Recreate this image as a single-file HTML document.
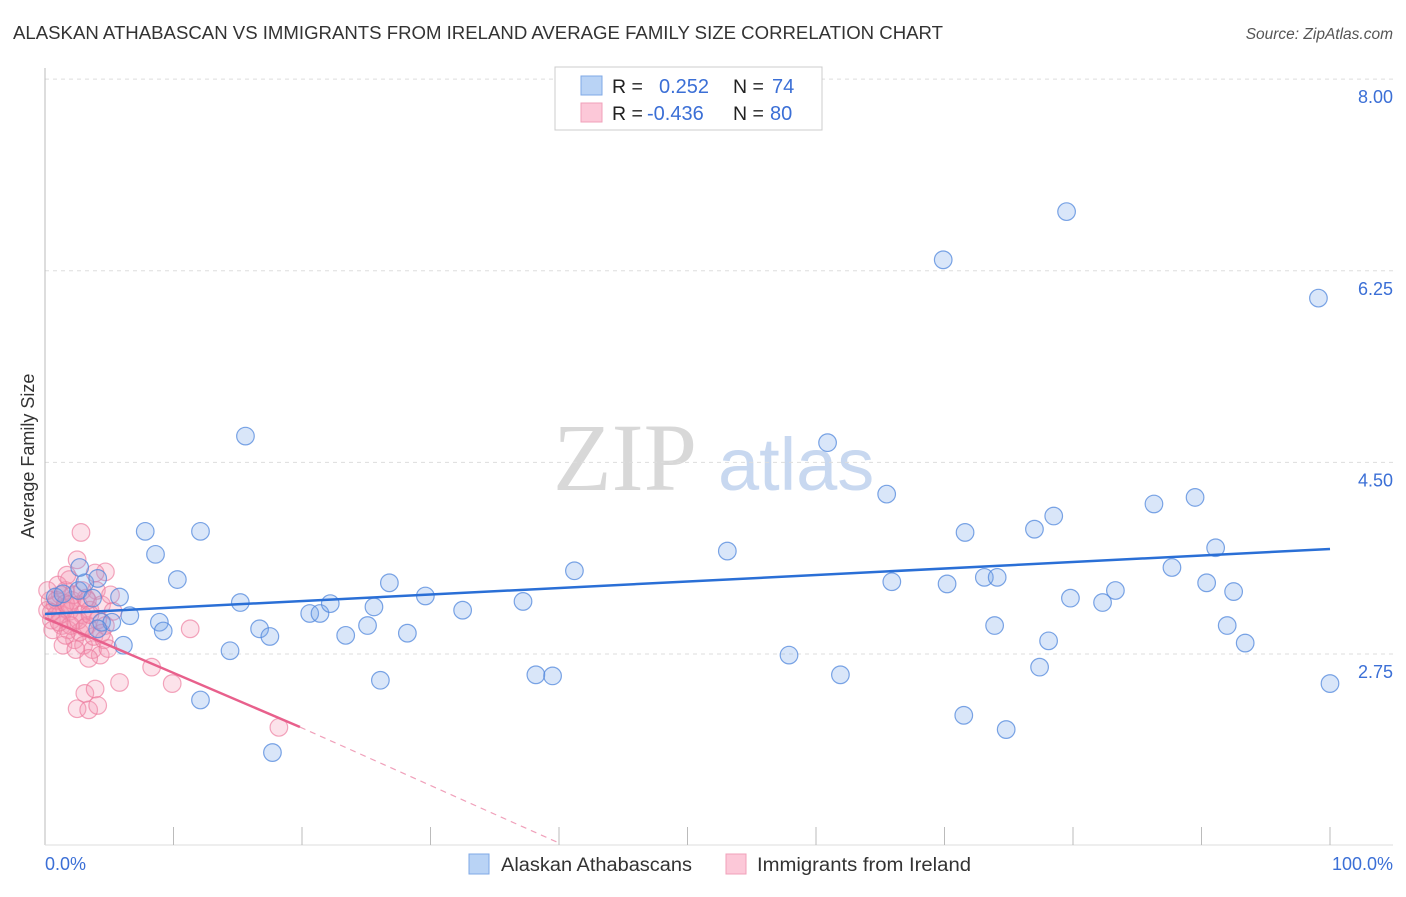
<!DOCTYPE html>
<html><head><meta charset="utf-8">
<style>
body{margin:0;background:#fff;font-family:"Liberation Sans",sans-serif;}
</style></head>
<body>
<svg id="chart" width="1406" height="892" xmlns="http://www.w3.org/2000/svg">
<text x="13" y="39" font-size="18" fill="#333" textLength="930" lengthAdjust="spacingAndGlyphs">ALASKAN ATHABASCAN VS IMMIGRANTS FROM IRELAND AVERAGE FAMILY SIZE CORRELATION CHART</text>
<text x="1393" y="39" font-size="15.5" fill="#555" font-style="italic" text-anchor="end">Source: ZipAtlas.com</text>
<g>
<text x="553" y="490" font-family="Liberation Serif,serif" font-size="96" fill="#d8d8d8">ZIP</text>
<text x="718" y="490" font-size="74" fill="#c8d8f0">atlas</text>
</g>
<g id="grid"></g>
<line x1="45" y1="68" x2="45" y2="845" stroke="#bbb"/>
<line x1="45" y1="845" x2="1393" y2="845" stroke="#ddd"/>
<g id="xticks"></g>
<text x="45" y="870" font-size="18" fill="#3b6fd6">0.0%</text>
<text x="1393" y="870" font-size="18" fill="#3b6fd6" text-anchor="end">100.0%</text>
<text transform="translate(34,456) rotate(-90)" font-size="18" fill="#333" text-anchor="middle">Average Family Size</text>
<g id="pts"></g>
<g id="trends"></g>
<g>
<rect x="555" y="67" width="267" height="63" fill="#fff" stroke="#ccc"/>
<rect x="581" y="76" width="21" height="19" fill="#b9d3f5" stroke="#7fa8e6"/>
<rect x="581" y="103" width="21" height="19" fill="#fcc8d8" stroke="#f0a0ba"/>
<text x="612" y="93" font-size="19.5" fill="#222">R = </text><text x="659" y="93" font-size="20" fill="#3b6fd6">0.252</text>
<text x="733" y="93" font-size="19.5" fill="#222">N = </text><text x="772" y="93" font-size="20" fill="#3b6fd6">74</text>
<text x="612" y="120" font-size="19.5" fill="#222">R = </text><text x="647" y="120" font-size="20" fill="#3b6fd6">-0.436</text>
<text x="733" y="120" font-size="19.5" fill="#222">N = </text><text x="770" y="120" font-size="20" fill="#3b6fd6">80</text>
</g>
<g>
<rect x="469" y="854" width="20" height="20" fill="#b9d3f5" stroke="#7fa8e6"/>
<text x="501" y="871" font-size="19" fill="#333" textLength="191" lengthAdjust="spacingAndGlyphs">Alaskan Athabascans</text>
<rect x="726" y="854" width="20" height="20" fill="#fcc8d8" stroke="#f0a0ba"/>
<text x="757" y="871" font-size="19" fill="#333" textLength="214" lengthAdjust="spacingAndGlyphs">Immigrants from Ireland</text>
</g>
</svg>
<script>
const yTicks=[8.00,6.25,4.50,2.75];
const yTickLabels=["8.00","6.25","4.50","2.75"];
const blueX=[0.8,1.4,2.6,3.1,4.1,2.7,3.7,4.4,5.2,5.8,6.1,6.6,4.1,7.8,8.6,8.9,9.2,10.3,12.1,12.1,14.4,15.2,15.6,16.7,17.5,17.7,20.6,21.4,22.2,23.4,25.1,25.6,26.1,26.8,28.2,29.6,32.5,37.2,38.2,39.5,41.2,53.1,57.9,60.9,61.9,65.5,65.9,69.9,70.2,71.6,71.5,73.1,73.9,74.1,74.8,77.0,77.4,78.1,78.5,79.5,79.8,82.3,83.3,86.3,87.7,89.5,90.4,91.1,92.0,92.5,93.4,99.1,100];
const blueY=[3.27,3.30,3.33,3.40,3.44,3.54,3.26,3.04,3.04,3.27,2.83,3.10,2.98,3.87,3.66,3.04,2.96,3.43,3.87,2.33,2.78,3.22,4.74,2.98,2.91,1.85,3.12,3.12,3.21,2.92,3.01,3.18,2.51,3.40,2.94,3.28,3.15,3.23,2.56,2.55,3.51,3.69,2.74,4.68,2.56,4.21,3.41,6.35,3.39,3.86,2.19,3.45,3.01,3.45,2.06,3.89,2.63,2.87,4.01,6.79,3.26,3.22,3.33,4.12,3.54,4.18,3.40,3.72,3.01,3.32,2.85,6.00,2.48];
const pinkX=[2.8,2.5,4.7,1.9,11.3,8.3,9.9,5.8,3.1,3.9,2.5,3.4,4.1,18.2,0.2,0.4,0.5,0.8,0.9,1.2,1.3,1.5,1.6,1.8,1.9,2.1,2.3,2.3,2.6,2.7,2.9,3.0,3.2,3.3,3.5,3.7,3.8,4.0,4.1,4.3,4.4,4.6,4.7,4.9,5.1,0.2,0.6,1.0,1.4,1.7,2.2,2.4,2.9,3.3,2.6,1.2,0.9,2.0,1.6,3.9,3.4,4.4,1.6,1.1,0.5,1.9,3.1,3.5,5.3];
const pinkY=[3.86,3.61,3.50,3.43,2.98,2.63,2.48,2.49,2.39,2.43,2.25,2.24,2.28,2.08,3.15,3.24,3.06,3.20,3.11,3.29,3.01,3.17,3.33,2.97,3.14,3.24,2.88,3.06,3.20,2.95,3.11,2.83,3.26,3.01,3.15,2.79,2.91,3.33,3.06,2.74,3.20,2.88,3.01,2.80,3.29,3.33,2.97,3.38,2.83,3.47,3.29,2.79,3.33,3.24,3.06,3.11,3.24,3.01,3.21,3.49,2.71,2.94,2.92,3.04,3.13,3.20,2.99,3.11,3.14];
const blueTrendX=[0,100], blueTrendY=[3.115,3.709];
const pinkTrendX=[0,19.84], pinkTrendY=[3.079,2.083];
const pinkDashX=[19.84,40], pinkDashY=[2.083,1.024];

const X0=45,X1=1330,Y275=654,PXU=109.5;
const sx=v=>X0+(X1-X0)*v/100;
const sy=v=>Y275-(v-2.75)*PXU;
const NS="http://www.w3.org/2000/svg";
function mk(tag,attrs,parent){const e=document.createElementNS(NS,tag);for(const k in attrs)e.setAttribute(k,attrs[k]);parent.appendChild(e);return e;}
const grid=document.getElementById('grid');
yTicks.forEach((t,i)=>{
  const l=mk('line',{x1:45,x2:1393,y1:sy(t),y2:sy(t),stroke:'#ddd','stroke-dasharray':'4,4'},grid);
  
  
  const tx=mk('text',{x:1393,y:sy(t)+24,'font-size':18,fill:'#3b6fd6','text-anchor':'end'},grid);
  tx.textContent=yTickLabels[i];
  
  
});
const xt=document.getElementById('xticks');
for(let i=1;i<=10;i++){
  const l=mk('line',{x1:sx(i*10),x2:sx(i*10),y1:827,y2:845,stroke:'#bbb'},xt);
  
  
}
const pts=document.getElementById('pts');
pinkX.forEach((x,i)=>{
  const c=mk('circle',{cx:sx(x),cy:sy(pinkY[i]),r:8.8,fill:'rgba(244,150,180,0.28)',stroke:'rgba(236,120,155,0.65)','stroke-width':1.2},pts);
  
  
});
blueX.forEach((x,i)=>{
  const c=mk('circle',{cx:sx(x),cy:sy(blueY[i]),r:8.8,fill:'rgba(120,165,235,0.28)',stroke:'rgba(80,135,220,0.75)','stroke-width':1.2},pts);
  
  
});
const tr=document.getElementById('trends');
const b=mk('line',{x1:sx(blueTrendX[0]),y1:sy(blueTrendY[0]),x2:sx(blueTrendX[1]),y2:sy(blueTrendY[1]),stroke:'#2a6fd6','stroke-width':2.5},tr);


const p=mk('line',{x1:sx(pinkTrendX[0]),y1:sy(pinkTrendY[0]),x2:sx(pinkTrendX[1]),y2:sy(pinkTrendY[1]),stroke:'#e8608c','stroke-width':2.5},tr);


const pd=mk('line',{x1:sx(pinkDashX[0]),y1:sy(pinkDashY[0]),x2:sx(pinkDashX[1]),y2:sy(pinkDashY[1]),stroke:'#f0a0ba','stroke-width':1.2,'stroke-dasharray':'6,5'},tr);


</script>
</body></html>
